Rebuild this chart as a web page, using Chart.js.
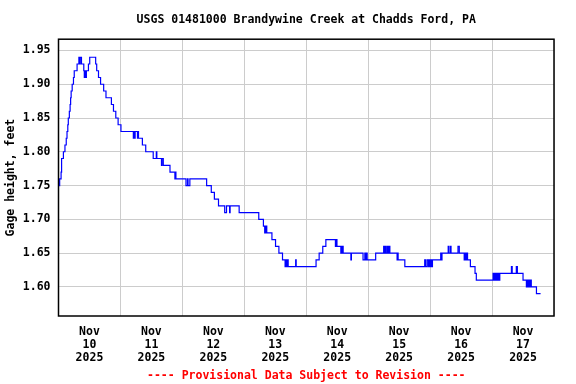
<!DOCTYPE html>
<html>
<head>
<meta charset="utf-8">
<script src="https://cdn.jsdelivr.net/npm/chart.js@4"></script>
<style>
  html, body { margin: 0; padding: 0; background: #ffffff; }
  canvas { display: block; }
</style>
</head>
<body>
<canvas id="c" width="576" height="384"></canvas>
<script>
// ---- data (hours since Nov 10 2025 00:00, gage height in feet; change points) ----
const hours = [
  0.25, 0.45, 1.0, 1.2, 1.9, 2.5, 3.0, 3.3, 3.6, 3.8, 4.2, 4.5, 4.7, 4.9, 5.3, 5.8, 6.1, 7.2, 7.9, 8.2,
  8.4, 8.9, 9.8, 10.0, 10.3, 10.5, 10.8, 11.6, 12.1, 14.4, 14.8, 15.5, 16.3, 17.5, 18.4, 20.5, 21.3, 22.2, 23.1, 24.2,
  29.0, 29.2, 29.5, 29.7, 30.6, 30.8, 31.0, 32.5, 33.8, 36.7, 37.9, 38.1, 39.9, 40.1, 40.6, 43.2, 45.1, 45.3, 45.5, 49.4,
  50.0, 50.2, 50.9, 57.4, 59.2, 60.4, 62.0, 64.4, 65.1, 66.3, 66.5, 70.0, 77.6, 79.4, 79.9, 80.1, 80.3, 80.5, 80.7, 82.7,
  84.1, 85.4, 86.8, 87.8, 88.1, 88.4, 88.7, 89.0, 91.9, 92.1, 99.8, 101.0, 102.4, 103.6, 107.3, 107.5, 107.9, 109.4, 109.6, 109.9,
  110.1, 110.3, 113.3, 113.5, 118.0, 118.7, 119.0, 119.3, 119.6, 122.9, 126.0, 126.3, 126.5, 126.8, 127.3, 127.7, 128.0, 128.4, 131.2, 131.4,
  131.6, 134.2, 141.9, 142.2, 142.8, 143.3, 143.6, 144.0, 144.3, 144.6, 144.9, 148.1, 148.3, 148.6, 151.0, 151.3, 151.9, 152.1, 154.8, 155.3,
  157.2, 157.5, 157.9, 158.2, 158.5, 159.6, 161.4, 161.9, 168.4, 168.7, 169.0, 169.3, 169.6, 170.0, 170.3, 170.6, 171.0, 175.5, 175.8, 177.4,
  177.8, 180.0, 181.3, 181.6, 181.9, 182.2, 182.6, 182.9, 183.2, 185.2, 186.8
];
const gageFt = [
  1.75, 1.76, 1.77, 1.79, 1.80, 1.81, 1.82, 1.83, 1.84, 1.85, 1.86, 1.87, 1.88, 1.89, 1.90, 1.91, 1.92, 1.93, 1.94, 1.93,
  1.94, 1.93, 1.92, 1.91, 1.92, 1.91, 1.92, 1.93, 1.94, 1.93, 1.92, 1.91, 1.90, 1.89, 1.88, 1.87, 1.86, 1.85, 1.84, 1.83,
  1.82, 1.83, 1.82, 1.83, 1.82, 1.83, 1.82, 1.81, 1.80, 1.79, 1.80, 1.79, 1.78, 1.79, 1.78, 1.77, 1.76, 1.77, 1.76, 1.75,
  1.76, 1.75, 1.76, 1.75, 1.74, 1.73, 1.72, 1.71, 1.72, 1.71, 1.72, 1.71, 1.70, 1.69, 1.68, 1.69, 1.68, 1.69, 1.68, 1.67,
  1.66, 1.65, 1.64, 1.63, 1.64, 1.63, 1.64, 1.63, 1.64, 1.63, 1.64, 1.65, 1.66, 1.67, 1.66, 1.67, 1.66, 1.65, 1.66, 1.65,
  1.66, 1.65, 1.64, 1.65, 1.64, 1.65, 1.64, 1.65, 1.64, 1.65, 1.66, 1.65, 1.66, 1.65, 1.66, 1.65, 1.66, 1.65, 1.64, 1.65,
  1.64, 1.63, 1.64, 1.63, 1.64, 1.63, 1.64, 1.63, 1.64, 1.63, 1.64, 1.65, 1.64, 1.65, 1.66, 1.65, 1.66, 1.65, 1.66, 1.65,
  1.64, 1.65, 1.64, 1.65, 1.64, 1.63, 1.62, 1.61, 1.62, 1.61, 1.62, 1.61, 1.62, 1.61, 1.62, 1.61, 1.62, 1.63, 1.62, 1.63,
  1.62, 1.61, 1.60, 1.61, 1.60, 1.61, 1.60, 1.61, 1.60, 1.59, 1.59
];
const dayLabels = ['10', '11', '12', '13', '14', '15', '16', '17'];
const monthLabel = 'Nov';
const yearLabel = '2025';
const yTickValues = [1.60, 1.65, 1.70, 1.75, 1.80, 1.85, 1.90, 1.95];
const titleText = 'USGS 01481000 Brandywine Creek at Chadds Ford, PA';
const yAxisTitle = 'Gage height, feet';
const footerText = '---- Provisional Data Subject to Revision ----';

// ---- chart ----
const MONO = "'DejaVu Sans Mono', 'Liberation Mono', monospace";
const HOURS_PER_DAY = 24;
const totalHours = dayLabels.length * HOURS_PER_DAY;

const framePlugin = {
  id: 'frame',
  afterDatasetsDraw(chart) {
    const { ctx, chartArea: a } = chart;
    ctx.save();
    ctx.strokeStyle = '#000000';
    ctx.lineWidth = 1.5;
    ctx.strokeRect(a.left, a.top, a.right - a.left, a.bottom - a.top);
    ctx.restore();
  }
};

new Chart(document.getElementById('c'), {
  type: 'line',
  data: {
    datasets: [{
      data: hours.map((h, i) => ({ x: h, y: gageFt[i] })),
      stepped: true,
      borderColor: '#0000ff',
      borderWidth: 1.2,
      pointRadius: 0,
      fill: false
    }]
  },
  options: {
    responsive: false,
    animation: false,
    devicePixelRatio: 1,
    layout: { padding: { left: 0, right: 22, top: 0, bottom: 0 } },
    plugins: {
      legend: { display: false },
      tooltip: { enabled: false },
      title: {
        display: true,
        text: titleText,
        fullSize: false,
        color: '#000000',
        font: { family: MONO, size: 11.5, weight: 'bold', lineHeight: 1.2 },
        padding: { top: 13, bottom: 12.4 }
      },
      subtitle: {
        display: true,
        position: 'bottom',
        text: footerText,
        fullSize: false,
        color: '#ff0000',
        font: { family: MONO, size: 11.5, weight: 'bold', lineHeight: 1.2 },
        padding: { top: 0, bottom: 1.5 }
      }
    },
    scales: {
      x: {
        type: 'linear',
        min: 0,
        max: totalHours,
        border: { display: false },
        grid: {
          drawTicks: false,
          lineWidth: 1,
          color: (c) => (c.tick && c.tick.value % HOURS_PER_DAY === 0) ? '#cccccc' : 'rgba(0,0,0,0)'
        },
        afterBuildTicks(scale) {
          const t = [];
          for (let i = 0; i <= dayLabels.length; i++) {
            t.push({ value: i * HOURS_PER_DAY });
            if (i < dayLabels.length) t.push({ value: i * HOURS_PER_DAY + HOURS_PER_DAY / 2 });
          }
          scale.ticks = t;
        },
        afterFit(scale) { scale.height = 52.7; },
        ticks: {
          autoSkip: false,
          maxRotation: 0,
          minRotation: 0,
          padding: 9.5,
          color: '#000000',
          font: { family: MONO, size: 11.5, weight: 'bold', lineHeight: 1.13 },
          callback: (v) => {
            if (v % HOURS_PER_DAY === HOURS_PER_DAY / 2) {
              const d = Math.floor(v / HOURS_PER_DAY);
              return [monthLabel, dayLabels[d], yearLabel];
            }
            return '';
          }
        }
      },
      y: {
        type: 'linear',
        min: 1.5568,
        max: 1.9667,
        border: { display: false },
        grid: { drawTicks: false, color: '#cccccc', lineWidth: 1 },
        afterBuildTicks(scale) {
          scale.ticks = yTickValues.map(v => ({ value: v }));
        },
        afterFit(scale) { scale.width = 58.5; },
        ticks: {
          padding: 8,
          color: '#000000',
          font: { family: MONO, size: 11.5, weight: 'bold' },
          callback: (v) => Number(v).toFixed(2)
        },
        title: {
          display: true,
          text: yAxisTitle,
          color: '#000000',
          font: { family: MONO, size: 11.5, weight: 'bold', lineHeight: 1.2 },
          padding: { top: 4, bottom: 0 }
        }
      }
    }
  },
  plugins: [framePlugin]
});
</script>
</body>
</html>
